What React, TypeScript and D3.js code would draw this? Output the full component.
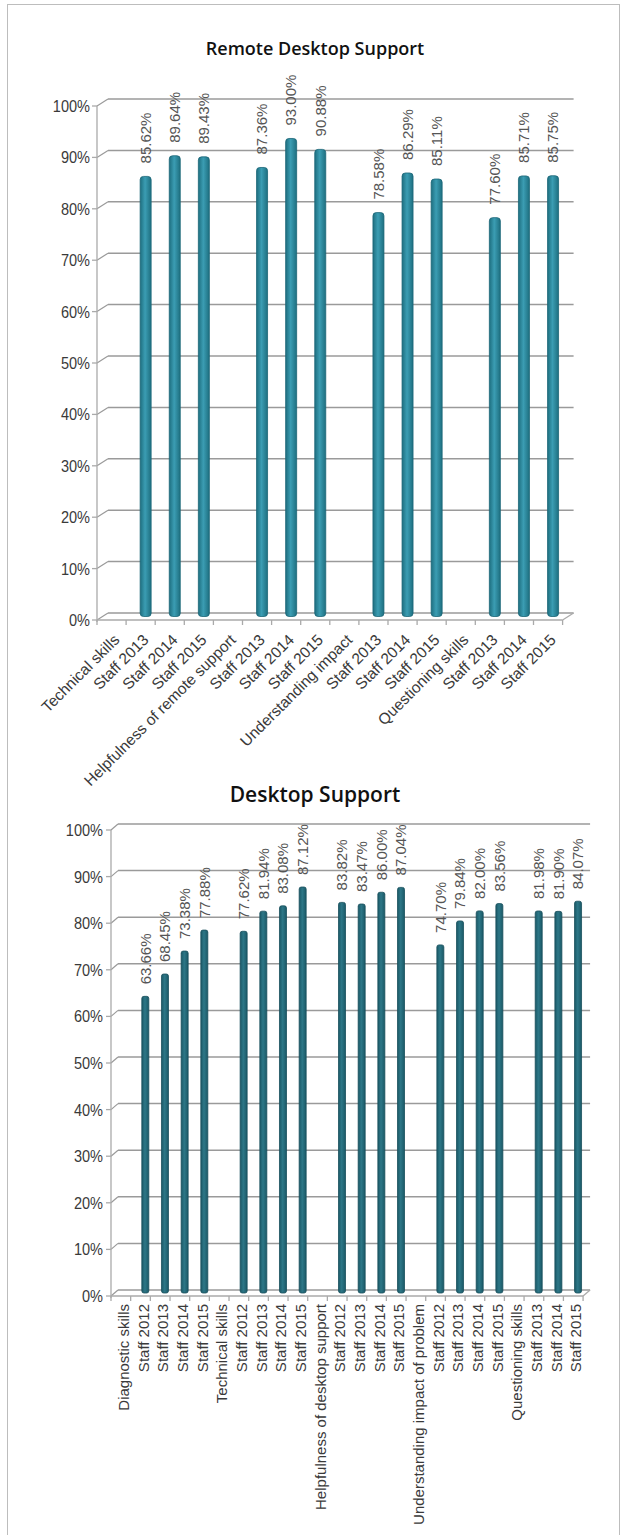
import React from "react";
import * as d3 from "d3";

// Remote desktop support survey scores
const remoteCategories = [
  "Technical skills", "Staff 2013", "Staff 2014", "Staff 2015",
  "Helpfulness of remote support", "Staff 2013", "Staff 2014", "Staff 2015",
  "Understanding impact", "Staff 2013", "Staff 2014", "Staff 2015",
  "Questioning skills", "Staff 2013", "Staff 2014", "Staff 2015",
];
const remoteValues: (number | null)[] = [
  null, 85.62, 89.64, 89.43,
  null, 87.36, 93.0, 90.88,
  null, 78.58, 86.29, 85.11,
  null, 77.6, 85.71, 85.75,
];

// Desktop support survey scores
const desktopCategories = [
  "Diagnostic skills", "Staff 2012", "Staff 2013", "Staff 2014", "Staff 2015",
  "Technical skills", "Staff 2012", "Staff 2013", "Staff 2014", "Staff 2015",
  "Helpfulness of desktop support", "Staff 2012", "Staff 2013", "Staff 2014", "Staff 2015",
  "Understanding impact of problem", "Staff 2012", "Staff 2013", "Staff 2014", "Staff 2015",
  "Questioning skills", "Staff 2013", "Staff 2014", "Staff 2015",
];
const desktopValues: (number | null)[] = [
  null, 63.66, 68.45, 73.38, 77.88,
  null, 77.62, 81.94, 83.08, 87.12,
  null, 83.82, 83.47, 86.0, 87.04,
  null, 74.7, 79.84, 82.0, 83.56,
  null, 81.98, 81.9, 84.07,
];

const percentTicks = [0, 10, 20, 30, 40, 50, 60, 70, 80, 90, 100];

const FONT = "'Liberation Sans', Arial, sans-serif";
const fmt = d3.format(".2f");

type ChartSpec = {
  id: string;
  title: string;
  titleY: number;
  titleSize: number;
  categories: string[];
  values: (number | null)[];
  left: number;
  right: number;
  floorY: number;
  topY: number;
  depthX: number;
  depthY: number;
  barShiftX: number;
  barWidth: number;
  labelAngle: number;
  labelDx: number;
  labelDy: number;
  labelSize: number;
  tickLabelGap: number;
  valueGap: number;
  barEdge: string;
  barMid: string;
  barStroke: string;
};

function Chart3D(p: ChartSpec) {
  const x = d3
    .scaleBand<number>()
    .domain(p.categories.map((_, i) => i))
    .range([p.left, p.right])
    .paddingInner(0)
    .paddingOuter(0);
  const y = d3.scaleLinear().domain([0, 100]).range([p.floorY, p.topY]);
  const bw = x.bandwidth();
  const dx = p.depthX;
  const dy = p.depthY;
  const gridColor = "#9a9a9a";
  const gradId = `bar-grad-${p.id}`;

  return (
    <g>
      <defs>
        <linearGradient id={gradId} x1="0" x2="1" y1="0" y2="0">
          <stop offset="0%" stopColor={p.barEdge} />
          <stop offset="45%" stopColor={p.barMid} />
          <stop offset="100%" stopColor={p.barEdge} />
        </linearGradient>
      </defs>

      <text
        x={315}
        y={p.titleY}
        textAnchor="middle"
        fontFamily="'Open Sans', sans-serif"
        fontWeight={600}
        fontSize={p.titleSize}
        fill="#111"
      >
        {p.title}
      </text>

      {/* back wall gridlines with side-wall diagonals */}
      {percentTicks.map((t) => (
        <g key={`g${t}`}>
          <line
            x1={p.left + dx}
            x2={p.right + dx}
            y1={y(t) + dy}
            y2={y(t) + dy}
            stroke={gridColor}
            strokeWidth={1.5}
          />
          <line
            x1={p.left}
            x2={p.left + dx}
            y1={y(t)}
            y2={y(t) + dy}
            stroke={gridColor}
            strokeWidth={1.2}
          />
        </g>
      ))}

      {/* floor front edge and right diagonal */}
      <line x1={p.left} x2={p.right} y1={y(0)} y2={y(0)} stroke="#aaa" strokeWidth={1.3} />
      <line x1={p.right} x2={p.right + dx} y1={y(0)} y2={y(0) + dy} stroke="#aaa" strokeWidth={1.3} />

      {/* vertical axis */}
      <line x1={p.left} x2={p.left} y1={y(0) + 2} y2={y(100)} stroke="#aaa" strokeWidth={1.3} />
      {percentTicks.map((t) => (
        <g key={`yt${t}`}>
          <line x1={p.left - 5} x2={p.left} y1={y(t)} y2={y(t)} stroke="#aaa" strokeWidth={1.3} />
          <text
            transform={`translate(${p.left - p.tickLabelGap},${y(t)}) scale(0.97,1.15)`}
            dy="0.35em"
            textAnchor="end"
            fontFamily={FONT}
            fontSize={15}
            fill="#3a3a3a"
          >
            {`${t}%`}
          </text>
        </g>
      ))}

      {/* category ticks on floor edge */}
      {d3.range(p.categories.length + 1).map((i) => {
        const xx = p.left + i * bw;
        return (
          <line key={`xt${i}`} x1={xx} x2={xx} y1={y(0)} y2={y(0) + 5} stroke="#aaa" strokeWidth={1.3} />
        );
      })}

      {/* bars */}
      {p.values.map((v, i) => {
        if (v == null) return null;
        const cx = (x(i) as number) + bw / 2 + p.barShiftX;
        const top = y(v) + dy / 2;
        const bottom = y(0) + dy / 2;
        return (
          <g key={`b${i}`}>
            <rect
              x={cx - p.barWidth / 2}
              y={top}
              width={p.barWidth}
              height={bottom - top}
              rx={p.barWidth * 0.3}
              fill={`url(#${gradId})`}
              stroke={p.barStroke}
              strokeWidth={0.8}
            />
            <text
              transform={`translate(${cx},${top - p.valueGap}) rotate(-90)`}
              dy="0.35em"
              textAnchor="start"
              fontFamily={FONT}
              fontSize={15}
              fill="#555"
            >
              {`${fmt(v)}%`}
            </text>
          </g>
        );
      })}

      {/* category labels */}
      {p.categories.map((c, i) => {
        const cx = (x(i) as number) + bw / 2 + p.labelDx;
        return (
          <text
            key={`c${i}`}
            transform={`translate(${cx},${y(0) + p.labelDy}) rotate(${p.labelAngle})`}
            dy="0.35em"
            textAnchor="end"
            fontFamily={FONT}
            fontSize={p.labelSize}
            fill="#3a3a3a"
          >
            {c}
          </text>
        );
      })}
    </g>
  );
}

export default function App() {
  return (
    <div style={{ position: "absolute", left: 0, top: 0 }}>
      <svg width={627} height={1535} style={{ display: "block", background: "#fff" }}>
        <rect x={7.5} y={4.5} width={612} height={1560} fill="#fff" stroke="#bdbdbd" strokeWidth={1} />
        <Chart3D
          id="remote"
          title="Remote Desktop Support"
          titleY={55}
          titleSize={18}
          categories={remoteCategories}
          values={remoteValues}
          left={97}
          right={97 + 16 * 29.1}
          floorY={620}
          topY={106}
          depthX={11}
          depthY={-7}
          barShiftX={5}
          barWidth={11}
          labelAngle={-45}
          labelDx={5}
          labelDy={17}
          labelSize={15.5}
          tickLabelGap={7}
          valueGap={13}
          barEdge="#1e6f80"
          barMid="#3b9db3"
          barStroke="#1b6677"
        />
        <Chart3D
          id="desktop"
          title="Desktop Support"
          titleY={802}
          titleSize={21}
          categories={desktopCategories}
          values={desktopValues}
          left={111}
          right={111 + 24 * 19.67}
          floorY={1296}
          topY={830}
          depthX={7}
          depthY={-6}
          barShiftX={4.8}
          barWidth={7}
          labelAngle={-90}
          labelDx={3}
          labelDy={8}
          labelSize={15}
          tickLabelGap={8}
          valueGap={12}
          barEdge="#1b5967"
          barMid="#2d7787"
          barStroke="#184f5c"
        />
      </svg>
    </div>
  );
}
